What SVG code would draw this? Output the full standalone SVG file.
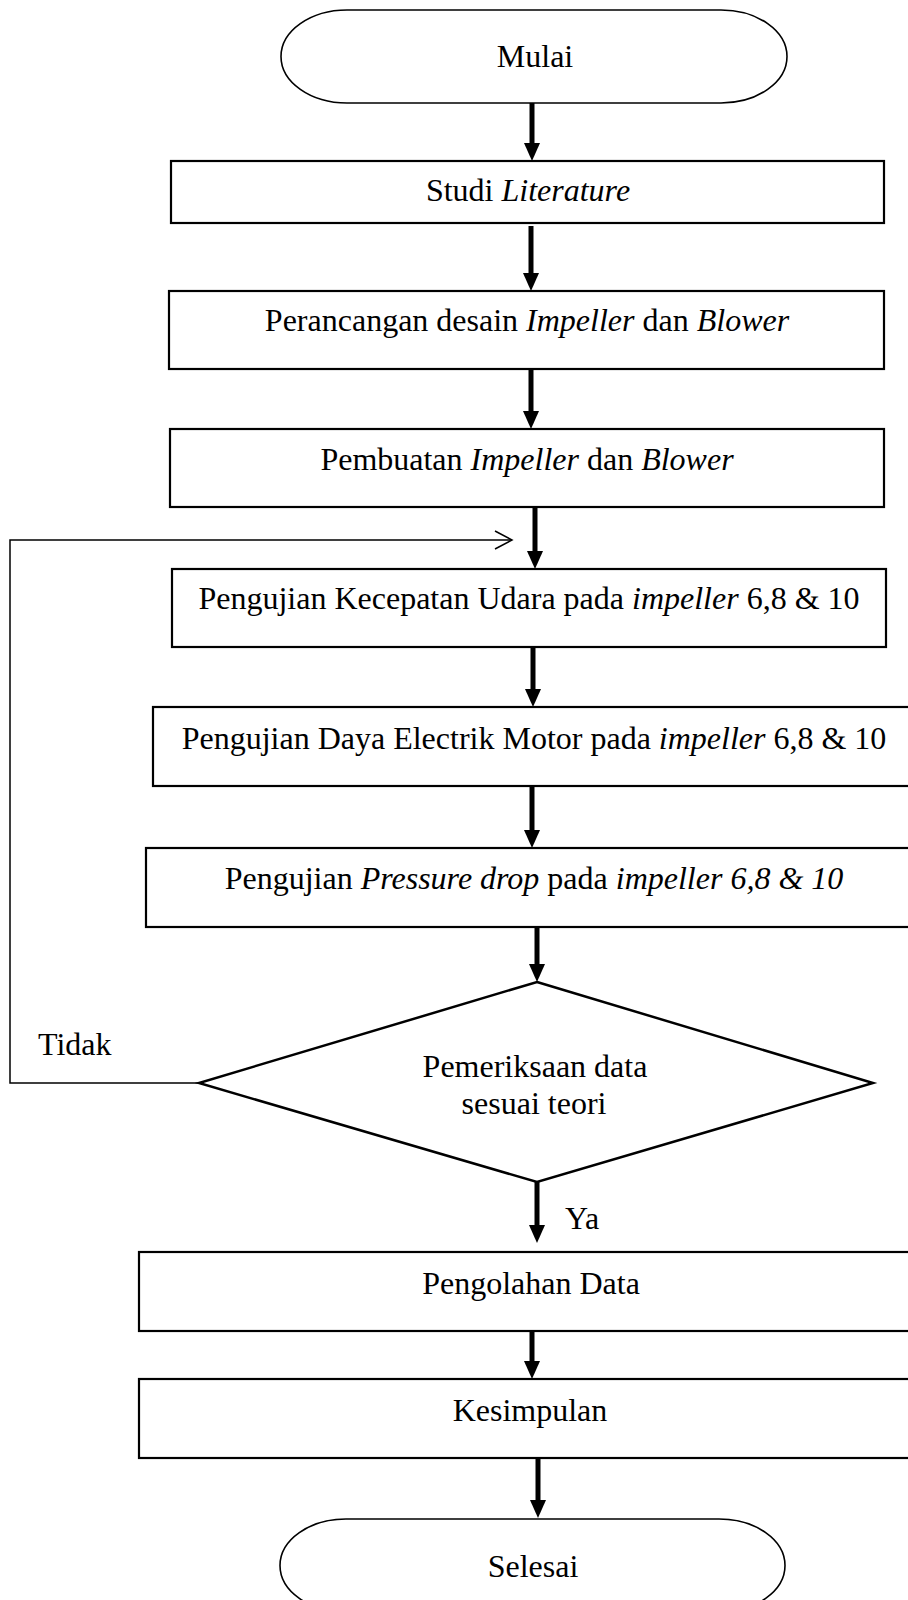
<svg xmlns="http://www.w3.org/2000/svg" width="908" height="1600" viewBox="0 0 908 1600">
<style>
.box{fill:#fff;stroke:#000;stroke-width:2.2}
.term{fill:#fff;stroke:#000;stroke-width:1.6}
.dia{fill:#fff;stroke:#000;stroke-width:2.5}
.t{font-family:"Liberation Serif","Times New Roman",serif;font-size:32px;fill:#000;text-anchor:middle}
.l{text-anchor:start}
.i{font-style:italic}
.arr{stroke:#000;stroke-width:5;fill:none;marker-end:url(#ah)}
.fb{stroke:#000;stroke-width:1.5;fill:none}
</style>
<defs>
<marker id="ah" markerUnits="userSpaceOnUse" viewBox="0 -8 18 16" refX="0" refY="0" markerWidth="18" markerHeight="16" orient="auto">
<path d="M0,-8 L18,0 L0,8 z" fill="#000"/>
</marker>
</defs>
<rect width="908" height="1600" fill="#fff"/>
<g id="connectors">
<line class="arr" x1="532" y1="103" x2="532" y2="143"/>
<line class="arr" x1="531" y1="226" x2="531" y2="273"/>
<line class="arr" x1="531" y1="369" x2="531" y2="411"/>
<line class="arr" x1="535" y1="507" x2="535" y2="551"/>
<line class="arr" x1="533" y1="647" x2="533" y2="689"/>
<line class="arr" x1="532" y1="786" x2="532" y2="830"/>
<line class="arr" x1="537" y1="923" x2="537" y2="964"/>
<line class="arr" x1="537" y1="1182" x2="537" y2="1225"/>
<line class="arr" x1="532" y1="1323" x2="532" y2="1361"/>
<line class="arr" x1="538" y1="1458" x2="538" y2="1500"/>
<polyline class="fb" points="199,1083 10,1083 10,540 512,540"/>
<polyline class="fb" points="495,531 512,540 495,549"/>
<text class="t l" x="38" y="1055">Tidak</text>
<text class="t l" x="565" y="1229">Ya</text>
</g>
<g id="mulai">
<rect class="term" x="281" y="10" width="506" height="93" rx="66" ry="46.5"/>
<text class="t" x="535" y="67">Mulai</text>
</g>
<g id="studi">
<rect class="box" x="171" y="161" width="713" height="62"/>
<text class="t" x="528" y="201">Studi <tspan class="i">Literature</tspan></text>
</g>
<g id="perancangan">
<rect class="box" x="169" y="291" width="715" height="78"/>
<text class="t" x="527" y="331">Perancangan desain <tspan class="i">Impeller</tspan> dan <tspan class="i">Blower</tspan></text>
</g>
<g id="pembuatan">
<rect class="box" x="170" y="429" width="714" height="78"/>
<text class="t" x="527" y="470">Pembuatan <tspan class="i">Impeller</tspan> dan <tspan class="i">Blower</tspan></text>
</g>
<g id="kecepatan">
<rect class="box" x="172" y="569" width="714" height="78"/>
<text class="t" x="529" y="609">Pengujian Kecepatan Udara pada <tspan class="i">impeller</tspan> 6,8 &amp; 10</text>
</g>
<g id="daya">
<rect class="box" x="153" y="707" width="770" height="79"/>
<text class="t" x="534" y="749">Pengujian Daya Electrik Motor pada <tspan class="i">impeller</tspan> 6,8 &amp; 10</text>
</g>
<g id="pressure">
<rect class="box" x="146" y="848" width="777" height="79"/>
<text class="t" x="534" y="889">Pengujian <tspan class="i">Pressure drop</tspan> pada <tspan class="i">impeller 6,8 &amp; 10</tspan></text>
</g>
<g id="pemeriksaan">
<polygon class="dia" points="537,982 873,1083 537,1182 199,1083"/>
<text class="t" x="535" y="1077">Pemeriksaan data</text>
<text class="t" x="534" y="1114">sesuai teori</text>
</g>
<g id="pengolahan">
<rect class="box" x="139" y="1252" width="784" height="79"/>
<text class="t" x="531" y="1294">Pengolahan Data</text>
</g>
<g id="kesimpulan">
<rect class="box" x="139" y="1379" width="784" height="79"/>
<text class="t" x="530" y="1421">Kesimpulan</text>
</g>
<g id="selesai">
<rect class="term" x="280" y="1519" width="505" height="93" rx="66" ry="46.5"/>
<text class="t" x="533" y="1577">Selesai</text>
</g>
</svg>
